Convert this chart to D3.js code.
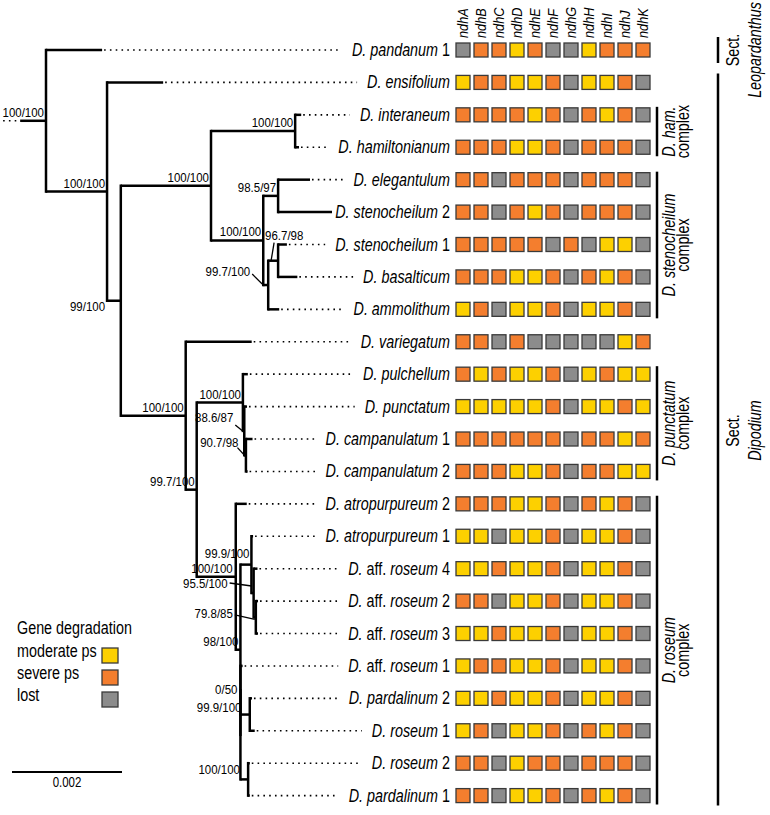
<!DOCTYPE html>
<html><head><meta charset="utf-8">
<script src="https://cdn.jsdelivr.net/npm/d3@7"></script>
<style>
body{margin:0;background:#fff}
svg{display:block}
text{font-family:"Liberation Sans",Arial,Helvetica,sans-serif;fill:#000}
</style>
</head><body>
<svg id="chart" width="770" height="815"></svg>
<script>
// ---------------- DATA ----------------
const taxa = ["D. pandanum 1","D. ensifolium","D. interaneum","D. hamiltonianum","D. elegantulum",
  "D. stenocheilum 2","D. stenocheilum 1","D. basalticum","D. ammolithum","D. variegatum",
  "D. pulchellum","D. punctatum","D. campanulatum 1","D. campanulatum 2","D. atropurpureum 2",
  "D. atropurpureum 1","D. aff. roseum 4","D. aff. roseum 2","D. aff. roseum 3","D. aff. roseum 1",
  "D. pardalinum 2","D. roseum 1","D. roseum 2","D. pardalinum 1"];

const genes = ["ndhA","ndhB","ndhC","ndhD","ndhE","ndhF","ndhG","ndhH","ndhI","ndhJ","ndhK"];

// M = moderate ps, S = severe ps, L = lost (one letter per gene, ndhA..ndhK)
const geneStatus = [
  "LSSMSLLMSSS","MSSMMSLMMSL","SSSSMSLSMSL","SSSMMSLSSSL","SSLSSSLSSSL",
  "SSLSMSLSSSL","SSSSSLSLMML","SSSMMSLSMSL","MSLMMSLMMSL","SSLSLLLLLMS",
  "SMSMMSLMSMM","MMMMMSLMMSM","SSSSSSLSSMS","SSSMMSLSSMM","SSSMMSLSMSL",
  "MMLMMSLMMSL","MMSMMSLMMSL","SSLMMSLMMSL","MMSMMSLMMSL","MSSMMSLMMSL",
  "MMSMMSLMMSL","MSLMMSLSMSL","SSLMSSLSSSL","SSLMMSLSMSL"];

const statusKeys = ["M","S","L"];
const statusLabels = ["moderate ps","severe ps","lost"];
const statusColors = ["#FDD000","#F47E2E","#8C8C8C"];

// [node, parent, branch length (subst./site), support]
const branches = [
  ["root", null, 0, "100/100"],
  ["D. pandanum 1","root",0.00102,null],
  ["n2","root",0.00111,"100/100"],
  ["D. ensifolium","n2",0.00102,null],
  ["n3","n2",0.00025,"99/100"],
  ["n4","n3",0.00164,"100/100"],
  ["ham","n4",0.00153,"100/100"],
  ["D. interaneum","ham",0.00011,null],
  ["D. hamiltonianum","ham",0.00007,null],
  ["sten","n4",0.00095,"100/100"],
  ["eleg","sten",0.00027,"98.5/97"],
  ["D. elegantulum","eleg",0.00058,null],
  ["D. stenocheilum 2","eleg",0.00098,null],
  ["n997","sten",0.00009,"99.7/100"],
  ["n967","n997",0.00018,"96.7/98"],
  ["D. stenocheilum 1","n967",0.00016,null],
  ["D. basalticum","n967",0.00035,null],
  ["D. ammolithum","n997",0.00020,null],
  ["n5","n3",0.00118,"100/100"],
  ["D. variegatum","n5",0.00120,null],
  ["n6","n5",0.00020,"99.7/100"],
  ["punc","n6",0.00084,"100/100"],
  ["D. pulchellum","punc",0.00009,null],
  ["p2","punc",0.000025,"88.6/87"],
  ["D. punctatum","p2",0.00005,null],
  ["p3","p2",0.00003,"90.7/98"],
  ["D. campanulatum 1","p3",0.00012,null],
  ["D. campanulatum 2","p3",0.00003,null],
  ["ros","n6",0.00071,"100/100"],
  ["D. atropurpureum 2","ros",0.00020,null],
  ["r2","ros",0.000085,"98/100"],
  ["r3","r2",0.00020,"99.9/100"],
  ["D. atropurpureum 1","r3",0.00003,null],
  ["r5","r3",0.00004,"95.5/100"],
  ["D. aff. roseum 4","r5",0.00007,null],
  ["r6","r5",0.00004,"79.8/85"],
  ["D. aff. roseum 2","r6",0.00004,null],
  ["D. aff. roseum 3","r6",0.00004,null],
  ["rx","r2",0,null],
  ["rz","rx",0,"0/50"],
  ["D. aff. roseum 1","rz",0.00004,null],
  ["r9","rz",0.00017,"99.9/100"],
  ["D. pardalinum 2","r9",0.00004,null],
  ["D. roseum 1","r9",0.00009,null],
  ["rq","rx",0.00014,"100/100"],
  ["D. roseum 2","rq",0.00003,null],
  ["D. pardalinum 1","rq",0.00003,null]
];
const rootStem = 0.00047, rootStemTruncated = 0.00031;
const scaleBarValue = 0.002;

const complexes = [
  {lines:["D. ham.","complex"], from:"D. interaneum", to:"D. hamiltonianum"},
  {lines:["D. stenocheilum","complex"], from:"D. elegantulum", to:"D. ammolithum"},
  {lines:["D. punctatum","complex"], from:"D. pulchellum", to:"D. campanulatum 2"},
  {lines:["D. roseum","complex"], from:"D. atropurpureum 2", to:"D. pardalinum 1"}
];
const sections = [
  {lines:["Sect.","Leopardanthus"], from:"D. pandanum 1", to:"D. pandanum 1"},
  {lines:["Sect.","Dipodium"], from:"D. ensifolium", to:"D. pardalinum 1"}
];

// ---------------- DRAW ----------------
const svg = d3.select("#chart");
const NARROW = 0.82;

const x = d3.scaleLinear().domain([0, 0.002]).range([46, 156]);
const y = d3.scaleLinear().domain([0, taxa.length - 1]).range([50, 795.6]);
const col = d3.scalePoint().domain(genes).range([463, 643]);
const color = d3.scaleOrdinal().domain(statusKeys).range(statusColors);

function ntext(g, tx, ty, str, o) {
  const gg = g.append("g").attr("transform",
    `translate(${tx},${ty})` + (o.rotate ? ` rotate(${o.rotate})` : "") + ` scale(${o.narrow || NARROW},1)`);
  return gg.append("text").attr("font-size", o.size).attr("text-anchor", o.anchor || "start")
    .attr("font-style", o.italic ? "italic" : "normal").text(str);
}

// tree layout
const nodes = new Map();
branches.forEach(([id, parent, len, sup]) => nodes.set(id, {id, parent, len, sup, children: []}));
nodes.forEach(n => { if (n.parent) nodes.get(n.parent).children.push(n); });
const root = nodes.get("root");
(function setDist(n, d) { n.dist = d; n.children.forEach(c => setDist(c, d + c.len)); })(root, 0);
(function setY(n) {
  if (!n.children.length) { n.y = y(taxa.indexOf(n.id)); return n.y; }
  const ys = n.children.map(setY);
  n.y0 = d3.min(ys); n.y1 = d3.max(ys); n.y = (n.y0 + n.y1) / 2; return n.y;
})(root);
const all = Array.from(nodes.values());
const internal = all.filter(n => n.children.length);
const tips = all.filter(n => !n.children.length);

const gTree = svg.append("g");
// root stem
gTree.append("line").attr("x1", x(-rootStem)).attr("x2", x(0)).attr("y1", root.y).attr("y2", root.y)
  .attr("stroke", "#000").attr("stroke-width", 2.5);
gTree.append("line").attr("x1", x(-rootStem - rootStemTruncated)).attr("x2", x(-rootStem))
  .attr("y1", root.y).attr("y2", root.y)
  .attr("stroke", "#000").attr("stroke-width", 1.6).attr("stroke-dasharray", "1.6,4.2");
// verticals
gTree.selectAll("line.v").data(internal).join("line").attr("class", "v")
  .attr("x1", d => x(d.dist)).attr("x2", d => x(d.dist))
  .attr("y1", d => d.y0).attr("y2", d => d.y1)
  .attr("stroke", "#000").attr("stroke-width", 2.5).attr("stroke-linecap", "square");
// horizontals
gTree.selectAll("line.h").data(all.filter(n => n.parent)).join("line").attr("class", "h")
  .attr("x1", d => x(nodes.get(d.parent).dist)).attr("x2", d => x(d.dist))
  .attr("y1", d => d.y).attr("y2", d => d.y)
  .attr("stroke", "#000").attr("stroke-width", 2.5);

// tip labels
const LABEL_RIGHT = 450;
const gLab = svg.append("g");
tips.forEach(t => {
  const gg = gLab.append("g").attr("transform", `translate(${LABEL_RIGHT},${t.y + 6}) scale(${NARROW},1)`);
  const txt = gg.append("text").attr("font-size", 17.5).attr("text-anchor", "end");
  const toks = t.id.split(" ");
  toks.forEach((tok, i) => {
    const upright = tok === "aff." || /^\d+$/.test(tok);
    txt.append("tspan").attr("font-style", upright ? "normal" : "italic")
      .text((i > 0 ? " " : "") + tok);
  });
  const w = txt.node().getComputedTextLength() * NARROW;
  const start = LABEL_RIGHT - w;
  const x0 = x(t.dist) + 2, x1 = start - 10;
  if (x1 > x0 + 3) {
    gTree.append("line").attr("x1", x0).attr("x2", x1).attr("y1", t.y).attr("y2", t.y)
      .attr("stroke", "#000").attr("stroke-width", 1.6).attr("stroke-dasharray", "1.6,4.2");
  }
});

// support labels
const placement = {
  n3:   {ref: "parent", tx: -2, ty: 10, anchor: "end"},
  n967: {tx: -13, ty: -20.5, anchor: "start", l: [-4, -18, -7, 0]},
  n997: {tx: -18, ty: -9, anchor: "end", l: [-16, -11, -6, -1]},
  p2:   {tx: -11, ty: -9, anchor: "end", l: [-9, -6, -1, 0.5]},
  p3:   {tx: -7.5, ty: -8.6, anchor: "end", l: [-8.5, -7.6, -0.5, 1]},
  r3:   {tx: -2, ty: -6.5, anchor: "end"},
  ros:  {tx: -3, ty: -3.5, anchor: "end"},
  r5:   {tx: -26, ty: -4.5, anchor: "end", l: [-24, -10, -2, -7]},
  r6:   {tx: -23, ty: 1, anchor: "end", l: [-21, -2.5, -1, 2]},
  rz:   {tx: -3, ty: 4, anchor: "end"},
  r9:   {ref: "parent", tx: 1, ty: -3, anchor: "end"},
  rq:   {ref: "parent", tx: -0.5, ty: -5, anchor: "end"}
};
const gSup = svg.append("g");
all.filter(n => n.sup).forEach(n => {
  const p = placement[n.id] || {tx: -2, ty: -4, anchor: "end"};
  const nx = x(n.dist);
  const bx = p.ref === "parent" ? x(nodes.get(n.parent).dist) : nx;
  ntext(gSup, bx + p.tx, n.y + p.ty, n.sup, {size: 13.5, anchor: p.anchor, narrow: 0.85});
  if (p.l) {
    gSup.append("line").attr("x1", nx + p.l[0]).attr("y1", n.y + p.l[1])
      .attr("x2", nx + p.l[2]).attr("y2", n.y + p.l[3])
      .attr("stroke", "#000").attr("stroke-width", 1.3);
  }
});

// gene headers
const gHead = svg.append("g");
genes.forEach(g => ntext(gHead, col(g) + 5, 38, g, {size: 15, italic: true, rotate: -90, narrow: 0.85}));

// matrix
const CELL = 14;
const gMat = svg.append("g");
taxa.forEach((t, i) => {
  const cy = y(i);
  genes.forEach((g, j) => {
    gMat.append("rect").attr("x", col(g) - CELL / 2).attr("y", cy - CELL / 2)
      .attr("width", CELL).attr("height", CELL)
      .attr("fill", color(geneStatus[i][j])).attr("stroke", "#3a3a3a").attr("stroke-width", 1.3);
  });
});

// complexes
const gAnn = svg.append("g");
const COMPLEX_X = 657;
complexes.forEach(c => {
  const top = y(taxa.indexOf(c.from)) - 8, bot = y(taxa.indexOf(c.to)) + 9;
  gAnn.append("line").attr("x1", COMPLEX_X).attr("x2", COMPLEX_X).attr("y1", top).attr("y2", bot)
    .attr("stroke", "#000").attr("stroke-width", 2.5);
  const cm = (top + bot) / 2;
  ntext(gAnn, COMPLEX_X + 18, cm, c.lines[0], {size: 17.5, italic: true, rotate: -90, anchor: "middle"});
  ntext(gAnn, COMPLEX_X + 32, cm, c.lines[1], {size: 17.5, rotate: -90, anchor: "middle"});
});
const SECT_X = 718;
sections.forEach(s => {
  const single = s.from === s.to;
  const top = y(taxa.indexOf(s.from)) - (single ? 13 : 9), bot = y(taxa.indexOf(s.to)) + (single ? 13 : 10);
  gAnn.append("line").attr("x1", SECT_X).attr("x2", SECT_X).attr("y1", top).attr("y2", bot)
    .attr("stroke", "#000").attr("stroke-width", 2.5);
  const cm = single ? (top + bot) / 2 : (top + bot) / 2 - 9;
  ntext(gAnn, SECT_X + 21, cm, s.lines[0], {size: 17.5, rotate: -90, anchor: "middle"});
  ntext(gAnn, SECT_X + 43, cm, s.lines[1], {size: 17.5, italic: true, rotate: -90, anchor: "middle"});
});

// legend
const gLeg = svg.append("g");
ntext(gLeg, 17, 634, "Gene degradation", {size: 17.5});
statusKeys.forEach((k, i) => {
  const by = 657 + i * 22;
  ntext(gLeg, 17, by, statusLabels[i], {size: 17.5});
  gLeg.append("rect").attr("x", 102).attr("y", by - 9).attr("width", 16).attr("height", 15)
    .attr("fill", color(k)).attr("stroke", "#3a3a3a").attr("stroke-width", 1.3);
});

// scale bar
const sbLen = x(scaleBarValue) - x(0);
svg.append("line").attr("x1", 12).attr("x2", 12 + sbLen).attr("y1", 772).attr("y2", 772)
  .attr("stroke", "#000").attr("stroke-width", 2.2);
ntext(svg, 12 + sbLen / 2, 787, String(scaleBarValue), {size: 14, anchor: "middle"});
</script>
</body></html>
